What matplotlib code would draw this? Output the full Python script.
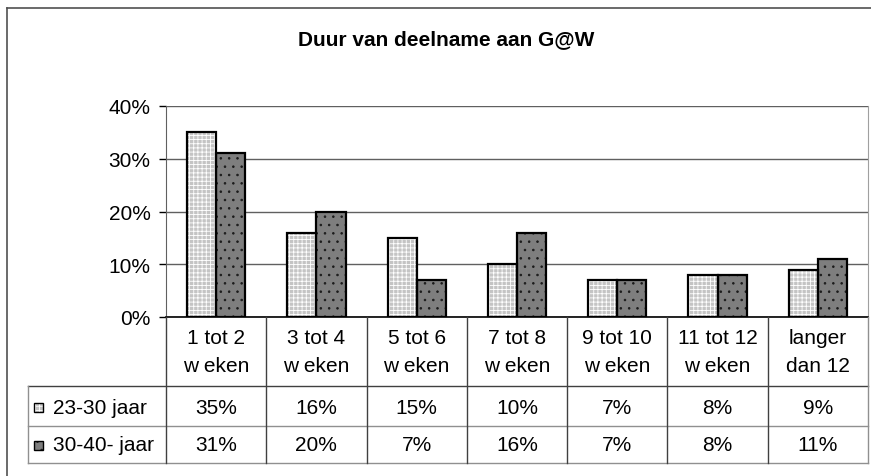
import matplotlib.pyplot as plt
from matplotlib.lines import Line2D
from matplotlib.patches import Rectangle
import numpy as np

plt.rcParams['font.family'] = ['Liberation Sans', 'DejaVu Sans']
plt.rcParams['hatch.linewidth'] = 0.6

#%% Data
categories = ['1 tot 2\nw eken', '3 tot 4\nw eken', '5 tot 6\nw eken', '7 tot 8\nw eken',
              '9 tot 10\nw eken', '11 tot 12\nw eken', 'langer\ndan 12']
series_names = ['23-30 jaar', '30-40- jaar']
jong = [35, 16, 15, 10, 7, 8, 9]
oud = [31, 20, 7, 16, 7, 8, 11]
yticks = [0, 10, 20, 30, 40]

W, H = 871, 477
fig = plt.figure(figsize=(W / 100, H / 100), dpi=100)

def fx(px):
    return px / W

def fy(py):
    return 1 - py / H

# plot area in pixels
x0, x1 = 166, 868
y_top, y_bot = 107, 318
ax = fig.add_axes([fx(x0), fy(y_bot), fx(x1) - fx(x0), fy(y_top) - fy(y_bot)])

styles = [dict(fc='#c4c4c4', hc='white', hatch='++++'),
          dict(fc='#7e7e7e', hc='#1a1a1a', hatch='..')]
n = len(categories)
x = np.arange(n)
bw = 0.29
fs = 15
for i, vals in enumerate([jong, oud]):
    pos = x + (i - 0.5) * bw
    st = styles[i]
    ax.bar(pos, vals, bw, color=st['fc'], hatch=st['hatch'], edgecolor=st['hc'],
           linewidth=0, zorder=2)
    ax.bar(pos, vals, bw, facecolor='none', edgecolor='black', linewidth=1.6, zorder=3)

ax.set_xlim(-0.5, n - 0.5)
ax.set_ylim(0, 40)
ax.set_yticks(yticks)
ax.set_yticklabels([f'{t}%' for t in yticks], fontsize=fs)
ax.tick_params(axis='y', length=5, width=1, pad=6, colors='black')
ax.set_xticks(np.arange(n + 1) - 0.5)
ax.set_xticklabels([])
ax.tick_params(axis='x', length=0)
ax.grid(axis='y', color='#606060', linewidth=1, zorder=0)
ax.spines['top'].set_visible(False)
ax.spines['left'].set_color('#606060')
ax.spines['right'].set_color('#a0a0a0')
ax.spines['bottom'].set_color('black')
ax.spines['bottom'].set_linewidth(1.2)

#%% Title
fig.text(fx(446), fy(40), 'Duur van deelname aan G@W', ha='center', va='center',
         fontsize=15, fontweight='bold')

#%% Data table
col_edges = [x0 + (x1 - x0) * k / n for k in range(n + 1)]
row_lines = [387, 427, 464]
tab_left = 28
lc = '#404040'

def hline(y, xa, xb, c=lc):
    fig.add_artist(Line2D([fx(xa), fx(xb)], [fy(y), fy(y)], color=c, lw=1))

def vline(xv, ya, yb, c=lc):
    fig.add_artist(Line2D([fx(xv), fx(xv)], [fy(ya), fy(yb)], color=c, lw=1))

hline(row_lines[0], tab_left, x1)
hline(row_lines[1], tab_left, x1, c='#909090')
hline(row_lines[2], tab_left, x1, c='#909090')
for k, xe in enumerate(col_edges):
    vline(xe, y_bot, row_lines[2], c='#909090' if k == n else lc)
vline(tab_left, row_lines[0], row_lines[2], c='#909090')

for k, cat in enumerate(categories):
    cx = (col_edges[k] + col_edges[k + 1]) / 2
    fig.text(fx(cx), fy(353), cat, ha='center', va='center', fontsize=fs, linespacing=1.6)
    fig.text(fx(cx), fy(408), f'{jong[k]}%', ha='center', va='center', fontsize=fs)
    fig.text(fx(cx), fy(446), f'{oud[k]}%', ha='center', va='center', fontsize=fs)

for i, (name, yc) in enumerate(zip(series_names, [408, 446])):
    st = styles[i]
    kx, ks = 34, 9
    fig.add_artist(Rectangle((fx(kx), fy(yc + ks / 2)), fx(ks), ks / H,
                             facecolor=st['fc'], hatch=st['hatch'], edgecolor=st['hc'], lw=0))
    fig.add_artist(Rectangle((fx(kx), fy(yc + ks / 2)), fx(ks), ks / H,
                             facecolor='none', edgecolor='black', lw=1))
    fig.text(fx(53), fy(yc), name, ha='left', va='center', fontsize=fs)

#%% Outer border
fig.add_artist(Line2D([fx(7), 1], [fy(9), fy(9)], color='#505050', lw=1.2))
fig.add_artist(Line2D([fx(7), fx(7)], [fy(9), 0], color='#505050', lw=1.2))

fig.savefig('out.png', dpi=100)
